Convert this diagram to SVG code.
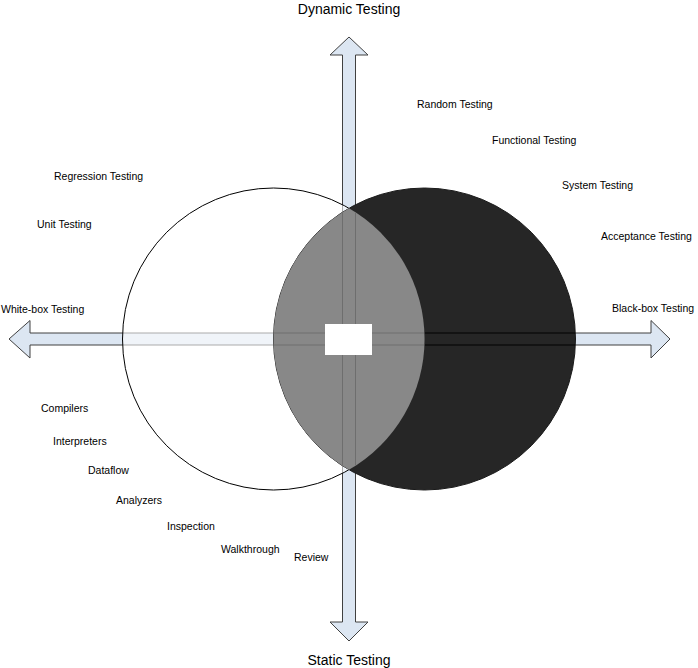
<svg xmlns="http://www.w3.org/2000/svg" width="698" height="668" viewBox="0 0 698 668">
<style>
.lbl{font-family:"Liberation Sans",Arial,sans-serif;font-size:10.5px;fill:#000}
.ttl{font-family:"Liberation Sans",Arial,sans-serif;font-size:14px;fill:#000;text-anchor:middle}
.arrow{fill:#dce6f2;stroke:#404040;stroke-width:1}
.outline{fill:none;stroke-width:1}
</style>
<defs>
<clipPath id="lensClip"><path d="M349 208.2 A151 151 0 0 1 349 469.8 A151 151 0 0 1 349 208.2 Z"/></clipPath>
<clipPath id="darkClip"><circle cx="424.5" cy="339" r="151"/></clipPath>
</defs>
<rect width="698" height="668" fill="#fff"/>
<g id="connectors">
<polygon id="vertical-axis" class="arrow" points="349,37 368,55 355.5,55 355.5,622 368,622 349,641 330,622 342.5,622 342.5,55 330,55"/>
<polygon id="horizontal-axis" class="arrow" points="9,339 30,320.5 30,333 651,333 651,320.5 670,339 651,358 651,345 30,345 30,358"/>
</g>
<g id="white-box-circle">
<circle cx="273.5" cy="339" r="151" fill="#fff" fill-opacity="0.56" stroke="#000" stroke-width="1"/>
</g>
<g id="black-box-circle">
<circle cx="424.5" cy="339" r="151" fill="#262626" stroke="#1a1a1a" stroke-width="1"/>
<g clip-path="url(#darkClip)">
<line x1="424" y1="333" x2="576" y2="333" stroke="#000" stroke-width="1.2"/>
<line x1="424" y1="345" x2="576" y2="345" stroke="#000" stroke-width="1.2"/>
</g>
</g>
<g id="overlap">
<path d="M349 208.2 A151 151 0 0 1 349 469.8 A151 151 0 0 1 349 208.2 Z" fill="#888"/>
<g clip-path="url(#lensClip)" stroke="#6e6e6e">
<line class="outline" x1="342.5" y1="200" x2="342.5" y2="480"/>
<line class="outline" x1="355.5" y1="200" x2="355.5" y2="480"/>
<line class="outline" x1="270" y1="333" x2="430" y2="333"/>
<line class="outline" x1="270" y1="345" x2="430" y2="345"/>
</g>
<rect x="325" y="324" width="47" height="31" fill="#fff"/>
</g>
<g id="axis-labels">
<text class="ttl" x="349" y="14">Dynamic Testing</text>
<text class="ttl" x="349" y="665">Static Testing</text>
<text class="lbl" x="1" y="313">White-box Testing</text>
<text class="lbl" x="612" y="312">Black-box Testing</text>
</g>
<g id="dynamic-labels">
<text class="lbl" x="417" y="108">Random Testing</text>
<text class="lbl" x="492" y="144">Functional Testing</text>
<text class="lbl" x="562" y="189">System Testing</text>
<text class="lbl" x="601" y="240">Acceptance Testing</text>
<text class="lbl" x="54" y="180">Regression Testing</text>
<text class="lbl" x="37" y="228">Unit Testing</text>
</g>
<g id="static-labels">
<text class="lbl" x="41" y="412">Compilers</text>
<text class="lbl" x="53" y="445">Interpreters</text>
<text class="lbl" x="88" y="474">Dataflow</text>
<text class="lbl" x="116" y="504">Analyzers</text>
<text class="lbl" x="167" y="530">Inspection</text>
<text class="lbl" x="221" y="553">Walkthrough</text>
<text class="lbl" x="294" y="561">Review</text>
</g>
</svg>
